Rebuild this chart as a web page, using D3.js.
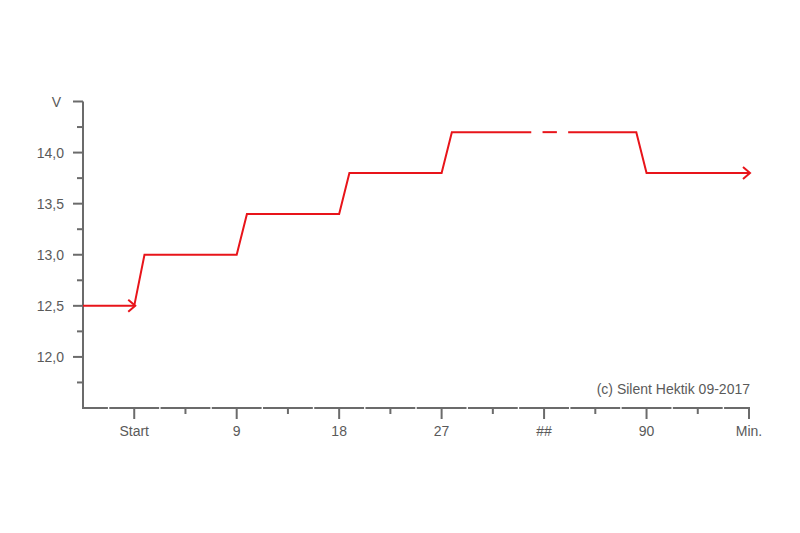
<!DOCTYPE html>
<html><head><meta charset="utf-8">
<script src="https://cdn.jsdelivr.net/npm/d3@7"></script>
<style>html,body{margin:0;padding:0;background:#fff}svg{display:block}text{font-family:"Liberation Sans",Arial,sans-serif;font-size:14px;fill:#5a5a5a}</style>
</head><body><svg id="c" width="800" height="533"></svg>
<script>
// Data
const xTickLabels = ["Start", "9", "18", "27", "##", "90", "Min."];
const xTickPos = [1, 3, 5, 7, 9, 11, 13];
const yTickValues = [12.0, 12.5, 13.0, 13.5, 14.0];
const yTickLabels = ["12,0", "12,5", "13,0", "13,5", "14,0"];
// voltage curve (x in axis-slot units, V)
const seg1X = [0, 1, 1.2, 3, 3.2, 5, 5.2, 7, 7.2, 8.75];
const seg1V = [12.5, 12.5, 13.0, 13.0, 13.4, 13.4, 13.8, 13.8, 14.2, 14.2];
const seg2X = [8.97, 9.25];
const seg2V = [14.2, 14.2];
const seg3X = [9.47, 10.8, 11.0, 13.0];
const seg3V = [14.2, 14.2, 13.8, 13.8];
const arrowX = [1, 13];
const arrowV = [12.5, 13.8];

const svg = d3.select("#c");
const x = d3.scaleLinear().domain([0, 13]).range([83, 749]);
const y = d3.scaleLinear().domain([11.5, 14.5]).range([408, 101.5]);
const axisCol = "#6b6b6b";
const red = "#e8141a";

// Y axis
const gy = svg.append("g");
gy.append("line").attr("x1", x(0)).attr("x2", x(0)).attr("y1", y(14.5)).attr("y2", y(11.5) + 1)
  .attr("stroke", axisCol).attr("stroke-width", 2);
d3.range(11.75, 14.51, 0.25).forEach(v => {
  const major = Math.abs(v * 2 - Math.round(v * 2)) < 1e-6;
  gy.append("line").attr("x1", x(0) - (major ? 10 : 6)).attr("x2", x(0))
    .attr("y1", y(v)).attr("y2", y(v)).attr("stroke", axisCol).attr("stroke-width", 2);
});
yTickValues.forEach((v, i) => {
  gy.append("text").attr("x", 64).attr("y", y(v)).attr("dy", "0.36em")
    .attr("text-anchor", "end").text(yTickLabels[i]);
});
gy.append("text").attr("x", 61).attr("y", y(14.5)).attr("dy", "0.36em")
  .attr("text-anchor", "end").text("V");

// X axis (segmented line)
const gx = svg.append("g");
const breaks = d3.range(0.5, 13, 1);
const edges = [0].concat(breaks).concat([13]);
for (let i = 0; i < edges.length - 1; i++) {
  const a = x(edges[i]) + (i === 0 ? -1 : 0.7);
  const b = x(edges[i + 1]) - (i === edges.length - 2 ? -1 : 0.7);
  gx.append("line").attr("x1", a).attr("x2", b).attr("y1", y(11.5)).attr("y2", y(11.5))
    .attr("stroke", axisCol).attr("stroke-width", 2);
}
d3.range(1, 13.01, 1).forEach(t => {
  const major = t % 2 === 1;
  gx.append("line").attr("x1", x(t)).attr("x2", x(t)).attr("y1", y(11.5))
    .attr("y2", y(11.5) + (major ? 11 : 6)).attr("stroke", axisCol).attr("stroke-width", 2);
});
xTickLabels.forEach((l, i) => {
  gx.append("text").attr("x", x(xTickPos[i])).attr("y", 436)
    .attr("text-anchor", "middle").text(l);
});

// copyright
svg.append("text").attr("x", 750).attr("y", 394).attr("text-anchor", "end")
  .text("(c) Silent Hektik 09-2017");

// Curve
const line = d3.line().x(d => x(d[0])).y(d => y(d[1]));
[[seg1X, seg1V], [seg2X, seg2V], [seg3X, seg3V]].forEach(([xs, vs]) => {
  svg.append("path").attr("d", line(xs.map((t, i) => [t, vs[i]])))
    .attr("fill", "none").attr("stroke", red).attr("stroke-width", 2)
    .attr("stroke-linejoin", "miter");
});
arrowX.forEach((t, i) => {
  const px = x(t) + 1, py = y(arrowV[i]);
  svg.append("path").attr("d", `M${px - 7},${py - 6}L${px},${py}L${px - 7},${py + 6}`)
    .attr("fill", "none").attr("stroke", red).attr("stroke-width", 2);
});
</script></body></html>
